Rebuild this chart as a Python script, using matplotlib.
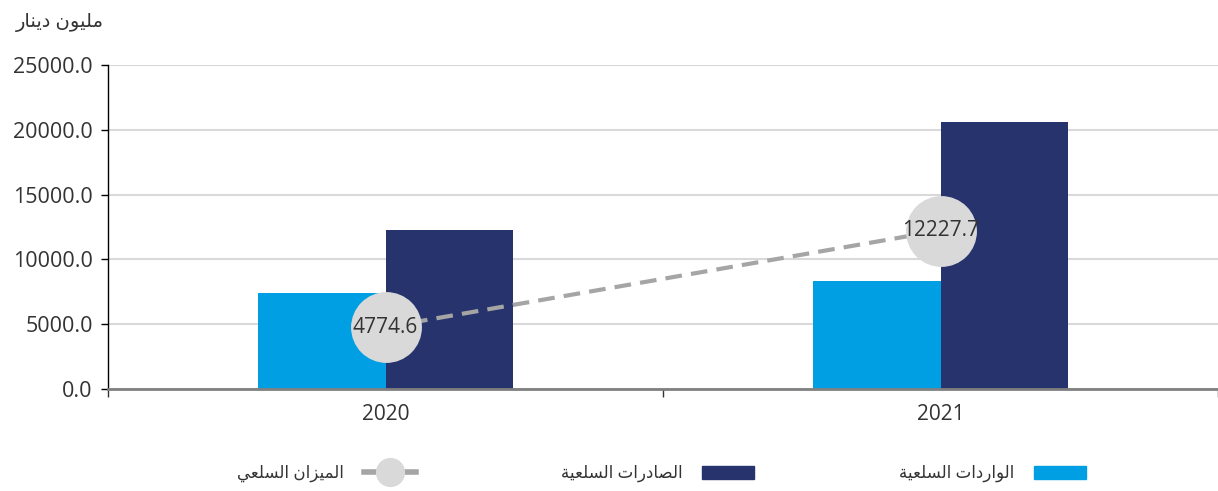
import numpy as np
import matplotlib
matplotlib.use('Agg')
import matplotlib.pyplot as plt
from matplotlib.lines import Line2D
from matplotlib.patches import Patch

# data
years = ['2020', '2021']
imports = [7410, 8330]
exports = [12250, 20600]
balance = [4774.6, 12227.7]
yticks = [0, 5000, 10000, 15000, 20000, 25000]

unit_label = 'مليون دينار'
imports_label = 'الواردات السلعية'
exports_label = 'الصادرات السلعية'
balance_label = 'الميزان السلعي'

# simple arabic shaping (matplotlib has no complex text layout)
FORMS = {
    'ا': (0xFE8D, 0xFE8E, None, None),
    'ة': (0xFE93, 0xFE94, None, None),
    'د': (0xFEA9, 0xFEAA, None, None),
    'ر': (0xFEAD, 0xFEAE, None, None),
    'ز': (0xFEAF, 0xFEB0, None, None),
    'و': (0xFEED, 0xFEEE, None, None),
    'ت': (0xFE95, 0xFE96, 0xFE97, 0xFE98),
    'س': (0xFEB1, 0xFEB2, 0xFEB3, 0xFEB4),
    'ص': (0xFEB9, 0xFEBA, 0xFEBB, 0xFEBC),
    'ع': (0xFEC9, 0xFECA, 0xFECB, 0xFECC),
    'ل': (0xFEDD, 0xFEDE, 0xFEDF, 0xFEE0),
    'م': (0xFEE1, 0xFEE2, 0xFEE3, 0xFEE4),
    'ن': (0xFEE5, 0xFEE6, 0xFEE7, 0xFEE8),
    'ي': (0xFEF1, 0xFEF2, 0xFEF3, 0xFEF4),
}

def shape(s):
    out = []
    for i, c in enumerate(s):
        if c not in FORMS:
            out.append(c)
            continue
        prev = s[i-1] if i > 0 else ''
        nxt = s[i+1] if i < len(s)-1 else ''
        jp = prev in FORMS and FORMS[prev][2] is not None
        jn = FORMS[c][2] is not None and nxt in FORMS
        iso, fin, ini, med = FORMS[c]
        if jp and jn:
            out.append(chr(med))
        elif jp:
            out.append(chr(fin))
        elif jn:
            out.append(chr(ini))
        else:
            out.append(chr(iso))
    return ''.join(out)[::-1]

plt.rcParams['font.family'] = ['Open Sans', 'DejaVu Sans']

c_imp = '#009fe3'
c_exp = '#26336c'
c_bal = '#a5a5a5'
c_mark = '#d9d9d9'

fig = plt.figure(figsize=(12.18, 4.91), dpi=100)
ax = fig.add_axes([0.0887, 0.2077, 0.9113, 0.66])

x = np.arange(len(years))
w = 0.23
ax.bar(x, imports, width=-w, align='edge', color=c_imp, zorder=2)
ax.bar(x, exports, width=w, align='edge', color=c_exp, zorder=2)
ax.plot(x, balance, color=c_bal, lw=3, dashes=(4, 2.2), marker='o', markersize=50,
        markerfacecolor=c_mark, markeredgecolor=c_mark, zorder=3)
for xi, v in zip(x, balance):
    ax.text(xi, v, '%.1f' % v, ha='center', va='center', fontsize=15, color='#333333', zorder=4)

ax.set_xlim(-0.5, 1.5)
ax.set_ylim(0, 25000)
ax.set_yticks(yticks)
ax.set_yticklabels(['%.1f' % t for t in yticks])
ax.yaxis.grid(True, color='#d9d9d9', lw=1.5, zorder=0)
ax.set_axisbelow(True)
ax.set_xticks(x)
ax.set_xticklabels(years)
ax.set_xticks([-0.5, 0.5, 1.5], minor=True)
ax.tick_params(axis='x', which='major', length=0, pad=11, labelsize=15, colors='#333333')
ax.tick_params(axis='x', which='minor', length=6, width=1, color='#333333')
ax.tick_params(axis='y', length=5, width=1, labelsize=15.5, colors='#333333', pad=6)
ax.tick_params(axis='y', color='black')
for s in ['top', 'right']:
    ax.spines[s].set_visible(False)
ax.spines['bottom'].set_color('#808080')
ax.spines['bottom'].set_linewidth(2)
ax.spines['left'].set_color('black')
ax.spines['left'].set_linewidth(1)

fig.text(0.085, 0.955, shape(unit_label), ha='right', va='center', fontsize=14, color='#333333')

handles = [
    Line2D([], [], color=c_bal, lw=4, marker='o', markersize=20,
           markerfacecolor=c_mark, markeredgecolor=c_mark),
    Patch(color=c_exp),
    Patch(color=c_imp),
]
labels = [shape(balance_label), shape(exports_label), shape(imports_label)]
fig.legend(handles, labels, loc='center', bbox_to_anchor=(0.543, 0.035), ncol=3,
           frameon=False, markerfirst=False, fontsize=12, handlelength=3.1,
           handleheight=0.8, handletextpad=1.2, columnspacing=8.7, labelcolor='#333333')

fig.savefig('out.png', dpi=100)
